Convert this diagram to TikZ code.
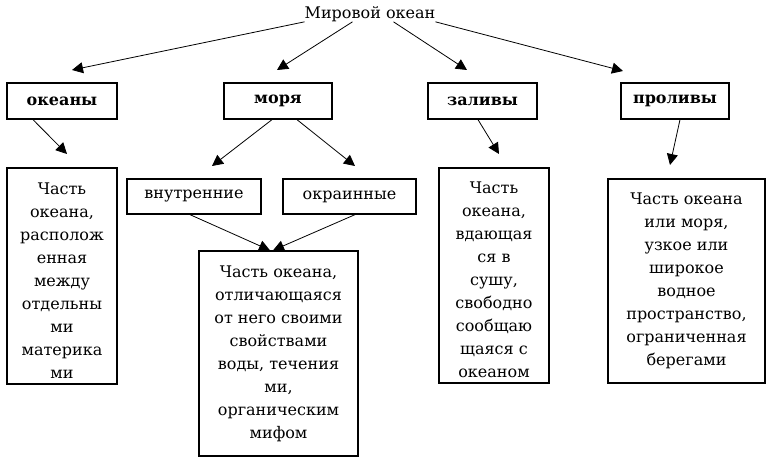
\documentclass[tikz,border=0pt]{standalone}
\usepackage{fontspec}
\setmainfont{DejaVu Serif}
\usetikzlibrary{arrows.meta, positioning}

\begin{document}
\begin{tikzpicture}[x=1pt, y=-1pt,
    every node/.style={font=\fontsize{16}{23}\selectfont, inner sep=0pt},
    lbl/.style={draw, line width=1.3pt, font=\fontsize{16}{23}\selectfont\bfseries, minimum height=36pt},
    subbox/.style={draw, line width=1.3pt, minimum height=35pt},
    defbox/.style={draw, line width=1.3pt, align=center},
    arr/.style={-{Triangle[length=11pt,width=11pt]}, line width=0.8pt}]
    \useasboundingbox (0,0) rectangle (772,463);

    % Title
    \node (world) at (370,14) {Мировой океан};

    % Four kinds of water bodies
    \node[lbl, minimum width=110pt] (oceans) at (62,101) {океаны};
    \node[lbl, minimum width=108pt] (seas) at (278,101) {моря};
    \node[lbl, minimum width=109pt] (gulfs) at (482.5,101) {заливы};
    \node[lbl, minimum width=108pt] (straits) at (675,101) {проливы};

    % Kinds of seas
    \node[subbox, minimum width=134pt] (inner) at (194,196.5) {внутренние};
    \node[subbox, minimum width=133pt] (outer) at (349.5,196.5) {окраинные};

    % Definitions (the rule pushes the text a little lower in the box)
    \node[defbox, minimum width=110pt, minimum height=216pt] (oceansDef) at (62,276)
        {\rule{0pt}{20pt}Часть\\океана,\\располож\\енная\\между\\отдельны\\ми\\материка\\ми};
    \node[defbox, minimum width=159pt, minimum height=205pt] (seasDef) at (278.5,353.5)
        {Часть океана,\\отличающаяся\\от него своими\\свойствами\\воды, течения\\ми,\\органическим\\мифом};
    \node[defbox, minimum width=110pt, minimum height=215pt] (gulfsDef) at (494,275.5)
        {\rule{0pt}{20pt}Часть\\океана,\\вдающая\\ся в\\сушу,\\свободно\\сообщаю\\щаяся с\\океаном};
    \node[defbox, minimum width=157pt, minimum height=204pt] (straitsDef) at (686.5,281)
        {Часть океана\\или моря,\\узкое или\\широкое\\водное\\пространство,\\ограниченная\\берегами};

    % Arrow ends (arrows stop short of the boxes)
    \coordinate (tipOceans) at (72,70);
    \coordinate (tipSeas) at (277,70);
    \coordinate (tipGulfs) at (467,70);
    \coordinate (tipStraits) at (623,71);
    \coordinate (tipOceansDef) at (67,154);
    \coordinate (tipInner) at (212,166);
    \coordinate (tipOuter) at (355,166);
    \coordinate (tipGulfsDef) at (499,154);
    \coordinate (tipStraitsDef) at (670,165);

    % Arrows from the title
    \draw[arr] (world.south west) -- (tipOceans);
    \draw[arr] ([xshift=48pt]world.south west) -- (tipSeas);
    \draw[arr] ([xshift=-42pt]world.south east) -- (tipGulfs);
    \draw[arr] (world.south east) -- (tipStraits);

    % Arrows to the definitions
    \draw[arr] ([xshift=-29pt]oceans.south) -- (tipOceansDef);
    \draw[arr] ([xshift=-6pt]seas.south) -- (tipInner);
    \draw[arr] ([xshift=19pt]seas.south) -- (tipOuter);
    \draw[arr] ([xshift=-4.5pt]gulfs.south) -- (tipGulfsDef);
    \draw[arr] ([xshift=5pt]straits.south) -- (tipStraitsDef);
    \draw[arr] ([xshift=-4pt]inner.south) -- ([xshift=-8.5pt]seasDef.north);
    \draw[arr] ([xshift=5.5pt]outer.south) -- ([xshift=-5.5pt]seasDef.north);
\end{tikzpicture}
\end{document}
